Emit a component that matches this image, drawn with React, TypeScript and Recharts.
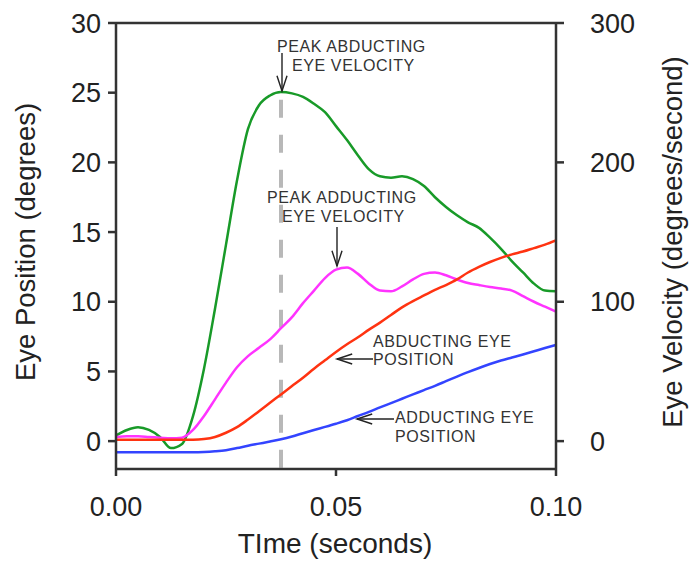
import React from 'react'
import { LineChart, Line, XAxis, YAxis, ReferenceLine } from 'recharts'

// time in seconds, one sample every 2.5 ms
const TIME = [
  0, 0.0025, 0.005, 0.0075, 0.01, 0.0125, 0.015, 0.0175, 0.02, 0.0225,
  0.025, 0.0275, 0.03, 0.0325, 0.035, 0.0375, 0.04, 0.0425, 0.045, 0.0475,
  0.05, 0.0525, 0.055, 0.0575, 0.06, 0.0625, 0.065, 0.0675, 0.07, 0.0725,
  0.075, 0.0775, 0.08, 0.0825, 0.085, 0.0875, 0.09, 0.0925, 0.095, 0.0975,
  0.1,
]

// degrees/second (right axis)
const ABDUCTING_VELOCITY = [
  4, 8, 10, 8, 3, -5, -2, 18, 52, 95,
  141, 187, 224, 241, 248, 250.5, 249.5, 247, 242, 236,
  226, 216, 205, 195, 190, 189, 190, 188, 183, 175,
  168, 162, 157, 153, 146, 138, 129, 121, 113, 108,
  107.5,
]

const ADDUCTING_VELOCITY = [
  3, 3.5, 3.5, 3, 2.5, 2, 2.5, 8, 18, 30,
  42, 53, 61, 67, 73, 81, 89, 99, 108, 117,
  123, 124.5, 120, 113, 108, 107.5, 111, 116, 120, 121,
  119, 116, 113.5, 112, 110.6, 109.5, 108, 104, 100, 96.5,
  93,
]

// degrees (left axis)
const ABDUCTING_POSITION = [
  0.1, 0.1, 0.1, 0.1, 0.1, 0.1, 0.1, 0.1, 0.15, 0.3,
  0.6, 1.0, 1.55, 2.15, 2.75, 3.35, 3.95, 4.55, 5.2, 5.8,
  6.4, 6.95, 7.45, 8.0, 8.5, 9.05, 9.6, 10.05, 10.45, 10.85,
  11.2, 11.6, 12.1, 12.5, 12.85, 13.15, 13.4, 13.6, 13.85, 14.1,
  14.4,
]

const ADDUCTING_POSITION = [
  -0.8, -0.8, -0.8, -0.8, -0.8, -0.8, -0.8, -0.8, -0.78, -0.73,
  -0.65, -0.5, -0.33, -0.18, -0.03, 0.13, 0.33, 0.57, 0.8, 1.02,
  1.25, 1.5, 1.8, 2.1, 2.42, 2.73, 3.04, 3.35, 3.66, 3.97,
  4.3, 4.63, 4.95, 5.25, 5.53, 5.78, 6.0, 6.22, 6.45, 6.68,
  6.9,
]

const X_TICKS = [0, 0.05, 0.1]
const POSITION_TICKS = [0, 5, 10, 15, 20, 25, 30]
const VELOCITY_TICKS = [0, 100, 200, 300]
const PEAK_TIME = 0.0375

const FONT = '"Liberation Sans", Arial, sans-serif'
const AXIS = '#333'
const NOTE = '#333'

const Arrow = ({ x1, y1, x2, y2 }: { x1: number; y1: number; x2: number; y2: number }) => {
  // open arrowhead at (x2, y2)
  const a = Math.atan2(y2 - y1, x2 - x1)
  const len = 16
  const spread = 0.32
  const w1x = x2 - len * Math.cos(a - spread)
  const w1y = y2 - len * Math.sin(a - spread)
  const w2x = x2 - len * Math.cos(a + spread)
  const w2y = y2 - len * Math.sin(a + spread)
  return (
    <g stroke="#222" strokeWidth={1.4} fill="none">
      <line x1={x1} y1={y1} x2={x2} y2={y2} />
      <polyline points={`${w1x},${w1y} ${x2},${y2} ${w2x},${w2y}`} />
    </g>
  )
}

export default function App() {
  const data = TIME.map((t, i) => ({
    t,
    abdVel: ABDUCTING_VELOCITY[i],
    addVel: ADDUCTING_VELOCITY[i],
    abdPos: ABDUCTING_POSITION[i],
    addPos: ADDUCTING_POSITION[i],
  }))

  const tickStyle = { fill: '#222', fontSize: 27, fontFamily: FONT }
  const noteStyle = { fill: NOTE, fontSize: 16, fontFamily: FONT, letterSpacing: 0.6 }

  return (
    <div style={{ position: 'absolute', left: 0, top: 0, width: 691, height: 565, background: '#fff' }}>
      <LineChart
        width={691}
        height={565}
        data={data}
        margin={{ top: 23, right: 75, bottom: 46, left: 56 }}
      >
        <XAxis
          dataKey="t"
          type="number"
          domain={[0, 0.1]}
          ticks={X_TICKS}
          tickFormatter={(v: number) => v.toFixed(2)}
          tickSize={7}
          tickMargin={21}
          height={50}
          axisLine={{ stroke: AXIS, strokeWidth: 2.5 }}
          tickLine={{ stroke: AXIS, strokeWidth: 2.5 }}
          tick={tickStyle}
          allowDataOverflow
        />
        <YAxis
          yAxisId="pos"
          domain={[-2, 30]}
          ticks={POSITION_TICKS}
          tickSize={8}
          tickMargin={7}
          width={60}
          axisLine={{ stroke: AXIS, strokeWidth: 2.5 }}
          tickLine={{ stroke: AXIS, strokeWidth: 2.5 }}
          tick={tickStyle}
          allowDataOverflow
        />
        <YAxis
          yAxisId="vel"
          orientation="right"
          domain={[-20, 300]}
          ticks={VELOCITY_TICKS}
          tickSize={8}
          tickMargin={26}
          width={60}
          axisLine={{ stroke: AXIS, strokeWidth: 2.5 }}
          tickLine={{ stroke: AXIS, strokeWidth: 2.5 }}
          tick={tickStyle}
          allowDataOverflow
        />
        <ReferenceLine yAxisId="pos" y={30} stroke={AXIS} strokeWidth={2.5} />
        <ReferenceLine
          yAxisId="pos"
          segment={[
            { x: PEAK_TIME, y: 24.5 },
            { x: PEAK_TIME, y: -2 },
          ]}
          stroke="#b8b8b8"
          strokeWidth={4}
          strokeDasharray="18 17"
        />
        <Line yAxisId="vel" type="monotone" dataKey="abdVel" stroke="#189a28" strokeWidth={2.5} dot={false} isAnimationActive={false} />
        <Line yAxisId="vel" type="monotone" dataKey="addVel" stroke="#ff33ff" strokeWidth={2.5} dot={false} isAnimationActive={false} />
        <Line yAxisId="pos" type="monotone" dataKey="abdPos" stroke="#ff3311" strokeWidth={2.5} dot={false} isAnimationActive={false} />
        <Line yAxisId="pos" type="monotone" dataKey="addPos" stroke="#3344ff" strokeWidth={2.5} dot={false} isAnimationActive={false} />
      </LineChart>

      <svg
        width={691}
        height={565}
        style={{ position: 'absolute', left: 0, top: 0, pointerEvents: 'none' }}
      >
        {/* axis titles */}
        <text x={335} y={553} textAnchor="middle" fontSize={28} fontFamily={FONT} fill="#222">
          TIme (seconds)
        </text>
        <text x={35} y={242} transform="rotate(-90 35 242)" textAnchor="middle" fontSize={27.5} fontFamily={FONT} fill="#222">
          Eye Position (degrees)
        </text>
        <text x={682} y={242} transform="rotate(-90 682 242)" textAnchor="middle" fontSize={27.5} fontFamily={FONT} fill="#222">
          Eye Velocity (degrees/second)
        </text>

        {/* annotations */}
        <text x={277} y={52} {...noteStyle}>PEAK ABDUCTING</text>
        <text x={292} y={71} {...noteStyle}>EYE VELOCITY</text>
        <Arrow x1={282} y1={53} x2={282} y2={91} />

        <text x={267} y={203} {...noteStyle}>PEAK ADDUCTING</text>
        <text x={282} y={222} {...noteStyle}>EYE VELOCITY</text>
        <Arrow x1={337} y1={227} x2={337} y2={266} />

        <text x={373} y={347} {...noteStyle}>ABDUCTING EYE</text>
        <text x={373} y={365} {...noteStyle}>POSITION</text>
        <Arrow x1={373} y1={359} x2={337} y2={359} />

        <text x={395} y={423} {...noteStyle}>ADDUCTING EYE</text>
        <text x={395} y={442} {...noteStyle}>POSITION</text>
        <Arrow x1={394} y1={419} x2={357} y2={419} />
      </svg>
    </div>
  )
}
